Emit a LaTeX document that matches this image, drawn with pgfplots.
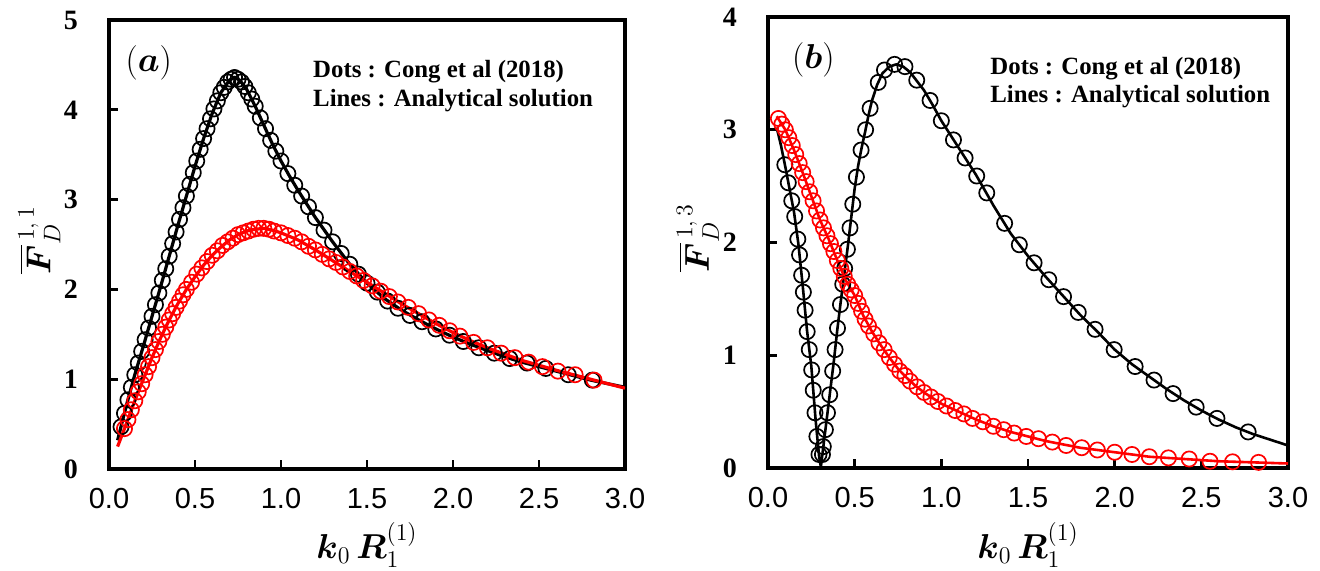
\documentclass[border=0pt]{standalone}
\usepackage{fontspec}
\setmainfont{Liberation Serif}
\setsansfont{Liberation Sans}
\usepackage{amsmath}
\usepackage{pgfplots}
\pgfplotsset{compat=1.18}

\pgfplotsset{
  panel/.style={
    scale only axis,
    xmin=0, xmax=3, ymin=0,
    axis line style={line width=2pt},
    tick align=inside,
    xtick pos=left, ytick pos=left,
    major tick length=4.5pt,
    tick style={line width=1.4pt, black},
    xtick={0,0.5,1,1.5,2,2.5,3},
    xticklabels={0.0,0.5,1.0,1.5,2.0,2.5,3.0},
    xticklabel style={font=\sffamily\fontsize{14.5}{15}\selectfont, yshift=-6pt},
    yticklabel style={font=\bfseries\fontsize{14}{14}\selectfont, xshift=-12pt},
    xlabel style={at={(axis description cs:0.5,-0.17)}, anchor=center, font=\fontsize{16.5}{17}\selectfont},
    ylabel style={at={(axis description cs:-0.135,0.51)}, anchor=center, font=\fontsize{17}{18}\selectfont},
    xlabel={$\boldsymbol{k}_0\,\boldsymbol{R}_1^{(1)}$},
  },
  bl/.style={black, line width=1.6pt, no marks},
  rl/.style={red, line width=1.6pt, no marks},
  bm/.style={black, only marks, mark=o, mark size=3.8pt, mark options={line width=0.85pt}},
  rm/.style={red, only marks, mark=o, mark size=3.8pt, mark options={line width=0.85pt}},
}
\tikzset{
  txt/.style={font=\bfseries\fontsize{12.4}{13}\selectfont, anchor=west, inner sep=0pt},
  lab/.style={font=\fontsize{18}{19}\selectfont, anchor=center, inner sep=0pt},
}

\begin{document}
\begin{tikzpicture}
\useasboundingbox (0,0) rectangle (660pt,285pt);

% ---------------- panel (a) ----------------
\begin{axis}[panel, at={(54.5pt,50.5pt)}, anchor=south west,
  width=258pt, height=224.5pt, ymax=5, ytick={0,1,2,3,4,5}, yticklabels={0,1,2,3,4,5},
  ylabel={$\overline{\boldsymbol{F}}{}_{D}^{\,1,\,1}$}]
\addplot[bl] coordinates {
(0.05,0.32)(0.10,0.70)(0.15,1.05)(0.20,1.37)(0.25,1.70)(0.30,2.03)(0.35,2.37)(0.40,2.71)
(0.45,3.04)(0.50,3.37)(0.55,3.68)(0.60,3.96)(0.65,4.19)(0.70,4.33)(0.73,4.36)(0.76,4.33)
(0.80,4.23)(0.85,4.04)(0.90,3.83)(0.95,3.62)(1.00,3.43)(1.05,3.26)(1.10,3.10)(1.20,2.80)
(1.30,2.53)(1.40,2.28)(1.50,2.07)(1.60,1.90)(1.70,1.77)(1.80,1.66)(1.90,1.56)(2.00,1.47)
(2.10,1.39)(2.20,1.32)(2.30,1.25)(2.40,1.19)(2.50,1.14)(2.60,1.09)(2.70,1.04)(2.80,0.99)
(2.90,0.95)(3.00,0.91)};
\addplot[bm] coordinates {
(0.07,0.47)(0.09,0.62)(0.11,0.77)(0.13,0.91)(0.15,1.05)(0.17,1.18)(0.19,1.31)(0.21,1.44)
(0.23,1.57)(0.25,1.70)(0.27,1.83)(0.29,1.96)(0.31,2.10)(0.33,2.23)(0.35,2.37)(0.37,2.51)
(0.39,2.64)(0.41,2.78)(0.43,2.91)(0.45,3.04)(0.47,3.17)(0.49,3.30)(0.51,3.43)(0.53,3.56)
(0.55,3.68)(0.57,3.79)(0.59,3.90)(0.61,4.01)(0.63,4.10)(0.65,4.19)(0.67,4.25)(0.69,4.31)
(0.71,4.34)(0.73,4.36)(0.75,4.34)(0.77,4.31)(0.79,4.26)(0.81,4.19)(0.83,4.12)(0.85,4.04)
(0.88,3.91)(0.91,3.79)(0.94,3.66)(0.97,3.54)(1.00,3.43)(1.04,3.29)(1.08,3.16)(1.12,3.04)
(1.16,2.92)(1.20,2.80)(1.25,2.66)(1.30,2.53)(1.35,2.40)(1.40,2.28)(1.45,2.17)(1.50,2.07)
(1.56,1.97)(1.62,1.87)(1.68,1.79)(1.75,1.71)(1.82,1.64)(1.90,1.56)(1.98,1.49)(2.06,1.42)
(2.15,1.35)(2.24,1.29)(2.33,1.23)(2.43,1.18)(2.54,1.12)(2.67,1.05)(2.81,0.99)};
\addplot[rl] coordinates {
(0.05,0.25)(0.10,0.50)(0.15,0.76)(0.20,1.00)(0.25,1.24)(0.30,1.46)(0.35,1.66)(0.40,1.84)
(0.45,2.00)(0.50,2.14)(0.55,2.27)(0.60,2.38)(0.65,2.47)(0.70,2.55)(0.75,2.61)(0.80,2.65)
(0.85,2.67)(0.90,2.68)(0.95,2.66)(1.00,2.63)(1.10,2.55)(1.20,2.44)(1.30,2.32)(1.40,2.20)
(1.50,2.08)(1.60,1.96)(1.70,1.84)(1.80,1.73)(1.90,1.62)(2.00,1.52)(2.10,1.43)(2.20,1.35)
(2.40,1.21)(2.60,1.10)(2.80,1.00)(3.00,0.90)};
\addplot[rm] coordinates {
(0.09,0.45)(0.11,0.55)(0.13,0.66)(0.15,0.76)(0.17,0.86)(0.19,0.95)(0.21,1.05)(0.23,1.14)
(0.25,1.24)(0.27,1.33)(0.29,1.42)(0.31,1.50)(0.33,1.58)(0.35,1.66)(0.37,1.73)(0.39,1.80)
(0.41,1.87)(0.43,1.94)(0.45,2.00)(0.48,2.08)(0.51,2.17)(0.54,2.24)(0.57,2.31)(0.60,2.38)
(0.63,2.43)(0.66,2.49)(0.69,2.53)(0.72,2.57)(0.75,2.61)(0.78,2.63)(0.81,2.65)(0.84,2.67)
(0.87,2.68)(0.90,2.68)(0.93,2.67)(0.96,2.65)(1.00,2.63)(1.04,2.60)(1.08,2.57)(1.12,2.53)
(1.16,2.48)(1.20,2.44)(1.24,2.39)(1.28,2.34)(1.32,2.30)(1.36,2.25)(1.40,2.20)(1.44,2.15)
(1.48,2.10)(1.53,2.04)(1.58,1.98)(1.63,1.92)(1.68,1.86)(1.74,1.80)(1.80,1.73)(1.86,1.66)
(1.92,1.60)(1.98,1.54)(2.04,1.48)(2.12,1.41)(2.20,1.35)(2.28,1.29)(2.36,1.24)(2.44,1.19)
(2.52,1.14)(2.61,1.09)(2.71,1.05)(2.82,0.99)};
\node[lab] at (axis description cs:0.077,0.905) {$(\boldsymbol{a})$};
\node[txt] at (axis description cs:0.395,0.884) {Dots : Cong et al (2018)};
\node[txt] at (axis description cs:0.395,0.820) {Lines : Analytical solution};
\end{axis}

% ---------------- panel (b) ----------------
\begin{axis}[panel, at={(384pt,51pt)}, anchor=south west,
  width=260pt, height=225.5pt, ymax=4, ytick={0,1,2,3,4}, yticklabels={0,1,2,3,4},
  ylabel={$\overline{\boldsymbol{F}}{}_{D}^{\,1,\,3}$}]
\addplot[bl, line width=1.3pt] coordinates {
(0.050,3.02)(0.075,2.86)(0.100,2.67)(0.125,2.47)(0.150,2.27)(0.175,1.99)(0.200,1.62)
(0.225,1.22)(0.250,0.90)(0.275,0.42)(0.295,0.10)(0.305,0.01)(0.320,0.20)(0.340,0.45)
(0.360,0.70)(0.380,0.95)(0.400,1.23)(0.420,1.48)(0.440,1.72)(0.460,1.96)(0.480,2.22)
(0.500,2.48)(0.520,2.68)(0.540,2.84)(0.560,2.98)(0.580,3.13)(0.600,3.26)(0.630,3.40)
(0.660,3.50)(0.700,3.56)(0.740,3.58)(0.780,3.56)(0.820,3.51)(0.860,3.43)(0.900,3.35)
(0.950,3.22)(1.000,3.08)(1.100,2.84)(1.200,2.60)(1.300,2.33)(1.400,2.08)(1.500,1.88)
(1.600,1.70)(1.700,1.53)(1.800,1.36)(1.900,1.21)(2.000,1.05)(2.100,0.92)(2.200,0.81)
(2.300,0.70)(2.400,0.60)(2.500,0.51)(2.600,0.43)(2.700,0.36)(2.800,0.30)(2.900,0.25)
(3.000,0.20)};
\addplot[bm] coordinates {
(0.097,2.69)(0.117,2.53)(0.137,2.37)(0.154,2.23)(0.172,2.03)(0.182,1.89)(0.194,1.71)
(0.204,1.56)(0.214,1.40)(0.226,1.21)(0.238,1.05)(0.252,0.87)(0.261,0.69)(0.271,0.49)
(0.282,0.28)(0.294,0.12)(0.314,0.12)(0.319,0.19)(0.331,0.34)(0.343,0.49)(0.356,0.65)
(0.373,0.86)(0.387,1.05)(0.401,1.24)(0.418,1.45)(0.431,1.63)(0.442,1.77)(0.458,1.94)
(0.473,2.13)(0.489,2.34)(0.510,2.58)(0.537,2.82)(0.563,3.00)(0.589,3.19)(0.636,3.42)
(0.672,3.53)(0.730,3.58)(0.790,3.56)(0.858,3.44)(0.935,3.26)(1.000,3.08)(1.070,2.91)
(1.137,2.75)(1.204,2.59)(1.262,2.44)(1.365,2.17)(1.450,1.98)(1.535,1.82)(1.620,1.67)
(1.705,1.52)(1.790,1.38)(1.887,1.23)(1.997,1.05)(2.118,0.90)(2.227,0.78)(2.337,0.66)
(2.470,0.54)(2.590,0.44)(2.770,0.32)};
\addplot[rl, line width=1.3pt] coordinates {
(0.05,3.12)(0.10,3.00)(0.15,2.82)(0.20,2.62)(0.25,2.41)(0.30,2.20)(0.35,2.03)(0.40,1.84)
(0.45,1.66)(0.50,1.53)(0.55,1.35)(0.60,1.21)(0.65,1.09)(0.70,0.98)(0.75,0.88)(0.80,0.80)
(0.85,0.73)(0.90,0.67)(0.95,0.62)(1.00,0.57)(1.10,0.50)(1.20,0.43)(1.30,0.37)(1.40,0.32)
(1.50,0.28)(1.60,0.24)(1.70,0.21)(1.80,0.18)(1.90,0.16)(2.00,0.14)(2.20,0.10)(2.40,0.08)
(2.60,0.06)(2.80,0.05)(3.00,0.04)};
\addplot[rm] coordinates {
(0.06,3.10)(0.08,3.05)(0.10,3.00)(0.12,2.93)(0.14,2.86)(0.16,2.78)(0.18,2.70)(0.20,2.62)
(0.22,2.54)(0.24,2.45)(0.26,2.37)(0.28,2.28)(0.30,2.20)(0.32,2.13)(0.34,2.06)(0.36,1.99)
(0.38,1.92)(0.40,1.84)(0.42,1.77)(0.44,1.70)(0.46,1.63)(0.48,1.58)(0.50,1.53)(0.52,1.46)
(0.54,1.39)(0.56,1.32)(0.58,1.26)(0.61,1.19)(0.64,1.11)(0.67,1.05)(0.70,0.98)(0.73,0.92)
(0.76,0.86)(0.79,0.82)(0.82,0.77)(0.86,0.72)(0.90,0.67)(0.94,0.63)(0.98,0.59)(1.03,0.55)
(1.08,0.51)(1.13,0.48)(1.18,0.44)(1.24,0.41)(1.30,0.37)(1.36,0.34)(1.42,0.31)(1.49,0.28)
(1.56,0.26)(1.64,0.23)(1.72,0.20)(1.81,0.18)(1.90,0.16)(2.00,0.14)(2.10,0.12)(2.20,0.10)
(2.31,0.09)(2.43,0.08)(2.55,0.06)(2.68,0.055)(2.83,0.05)};
\node[lab] at (axis description cs:0.087,0.905) {$(\boldsymbol{b})$};
\node[txt] at (axis description cs:0.427,0.885) {Dots : Cong et al (2018)};
\node[txt] at (axis description cs:0.427,0.823) {Lines : Analytical solution};
\end{axis}
\end{tikzpicture}
\end{document}
